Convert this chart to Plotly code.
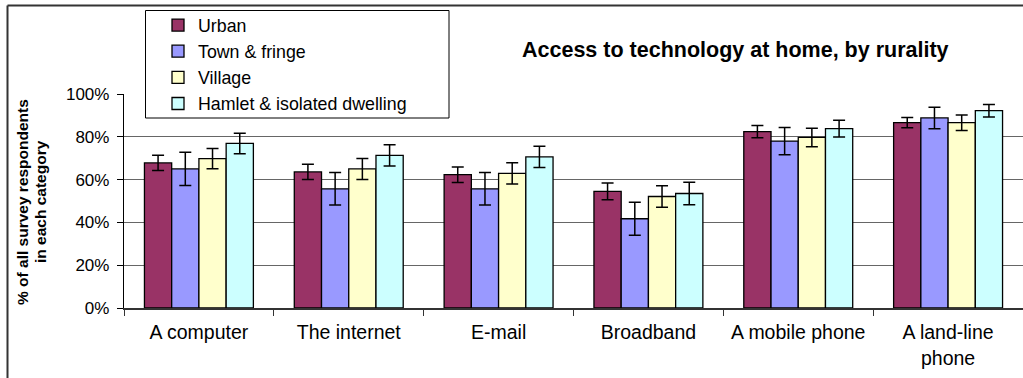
import plotly.graph_objects as go

# Survey categories and rurality groups
categories = ["A computer", "The internet", "E-mail", "Broadband",
              "A mobile phone", "A land-line<br>phone"]
groups = ["Urban", "Town & fringe", "Village", "Hamlet & isolated dwelling"]

# Percentage of respondents with access, per group
urban = [67.8, 63.6, 62.3, 54.5, 82.4, 86.6]
town_fringe = [65.0, 55.7, 55.7, 41.7, 78.0, 88.8]
village = [69.8, 65.0, 62.9, 52.1, 79.7, 86.6]
hamlet = [76.9, 71.3, 70.6, 53.5, 83.8, 92.2]

# Confidence interval half-widths (percentage points)
urban_err = [3.6, 3.6, 3.6, 3.9, 2.9, 2.4]
town_fringe_err = [7.8, 7.6, 7.6, 7.7, 6.4, 5.0]
village_err = [4.7, 4.9, 5.0, 5.0, 4.3, 3.6]
hamlet_err = [4.8, 5.0, 5.0, 5.3, 3.9, 2.9]

values = [urban, town_fringe, village, hamlet]
errors = [urban_err, town_fringe_err, village_err, hamlet_err]
colors = ["#993366", "#9999FF", "#FFFFCC", "#CCFFFF"]

W, H = 1023, 378
ML, MR, MT, MB = 124, 0, 94, 70
PW, PH = W - ML - MR, H - MT - MB

def px_x(p):
    return (p - ML) / PW

def px_y(p):
    return (H - MB - p) / PH

FONT = "Arial, Liberation Sans, sans-serif"

fig = go.Figure()
for name, vals, errs, col in zip(groups, values, errors, colors):
    fig.add_trace(go.Bar(
        name=name, x=categories, y=vals,
        marker=dict(color=col, line=dict(color="#000000", width=1.3)),
        error_y=dict(type="data", array=errs, visible=True,
                     color="#000000", thickness=1.5, width=6),
    ))

fig.update_layout(
    width=W, height=H,
    margin=dict(l=ML, r=MR, t=MT, b=MB, pad=0),
    paper_bgcolor="white", plot_bgcolor="white",
    font=dict(family=FONT, size=17, color="#000000"),
    barmode="group", bargap=0.273, bargroupgap=0,
    showlegend=True,
    legend=dict(
        x=px_x(158), y=px_y(7), xanchor="left", yanchor="top",
        bgcolor="rgba(0,0,0,0)", borderwidth=0,
        font=dict(family=FONT, size=17.8), traceorder="normal",
        itemwidth=30,
    ),
    xaxis=dict(
        type="category", showline=True, linecolor="#333333", linewidth=1.5,
        ticks="outside", ticklen=6, tickcolor="#333333", tickson="boundaries",
        showgrid=False, tickfont=dict(size=19.5), ticklabelstandoff=6,
    ),
    yaxis=dict(
        range=[0, 100], dtick=20, ticksuffix="%",
        showline=True, linecolor="#000000", linewidth=1.3,
        ticks="outside", ticklen=6, tickcolor="#000000",
        showgrid=True, gridcolor="#666666", gridwidth=1,
        tickfont=dict(size=17), ticklabelstandoff=4, zeroline=False,
    ),
    annotations=[
        dict(text="<b>Access to technology at home, by rurality</b>",
             x=px_x(520), y=px_y(50), xref="paper", yref="paper",
             xanchor="left", yanchor="middle", showarrow=False,
             font=dict(family=FONT, size=21.5)),
        dict(text="<b>% of all survey respondents</b>",
             x=px_x(22), y=px_y(202), xref="paper", yref="paper",
             xanchor="center", yanchor="middle", showarrow=False,
             textangle=-90, font=dict(family=FONT, size=15.5)),
        dict(text="<b>in each category</b>",
             x=px_x(40), y=px_y(202), xref="paper", yref="paper",
             xanchor="center", yanchor="middle", showarrow=False,
             textangle=-90, font=dict(family=FONT, size=15.5)),
    ],
    shapes=[
        # outer chart frame (top and left edges)
        dict(type="line", xref="paper", yref="paper",
             x0=px_x(7.5), x1=px_x(1030), y0=px_y(5.5), y1=px_y(5.5),
             line=dict(color="#333333", width=2)),
        dict(type="line", xref="paper", yref="paper",
             x0=px_x(7.5), x1=px_x(7.5), y0=px_y(5.5), y1=px_y(385),
             line=dict(color="#333333", width=2)),
        # legend box
        dict(type="rect", xref="paper", yref="paper", layer="above",
             x0=px_x(145.5), x1=px_x(449), y0=px_y(118), y1=px_y(10.5),
             fillcolor="white", line=dict(color="#000000", width=1)),
    ],
)

fig.write_html("out.html")
